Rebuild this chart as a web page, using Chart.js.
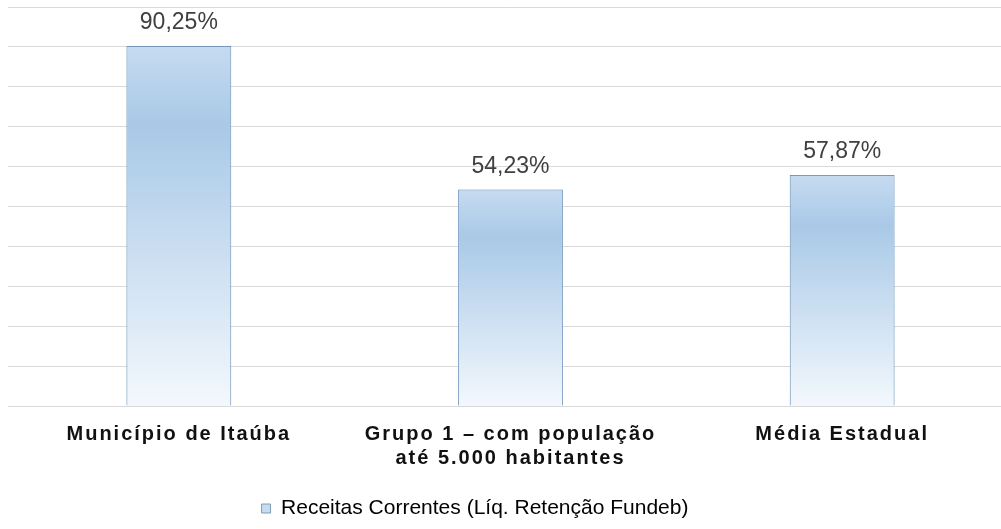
<!DOCTYPE html>
<html><head><meta charset="utf-8">
<style>
html,body{margin:0;padding:0;overflow:hidden;background:#fff;width:1001px;height:529px}
canvas{display:block}
</style>
<script src="https://cdn.jsdelivr.net/npm/chart.js@4/dist/chart.umd.min.js"></script>
</head><body>
<canvas id="c" width="1008" height="529"></canvas>
<script>
const categories = [
  "Município de Itaúba",
  ["Grupo 1 – com população", "até 5.000 habitantes"],
  "Média Estadual"
];
const seriesLabel = "Receitas Correntes (Líq. Retenção Fundeb)";
const values = [90.25, 54.23, 57.87];
const yMin = 0, yMax = 100, yStep = 10;

class SpacedCategoryScale extends Chart.CategoryScale {
  drawLabels(area) {
    const ctx = this.ctx;
    ctx.save();
    ctx.letterSpacing = '2px';
    super.drawLabels(area);
    ctx.restore();
  }
}
SpacedCategoryScale.id = 'spacedCategory';
SpacedCategoryScale.defaults = Chart.CategoryScale.defaults;
Chart.register(SpacedCategoryScale);

const fmt = v => v.toFixed(2).replace('.', ',') + '%';

const decor = {
  id: 'decor',
  afterLayout(chart) {
    chart.legend.right -= 66;
  },
  beforeDatasetsDraw(chart) {
    const ctx = chart.ctx;
    ctx.save();
    ctx.shadowColor = 'rgba(170,205,238,0.55)';
    ctx.shadowBlur = 5;
  },
  afterDatasetsDraw(chart) {
    const ctx = chart.ctx;
    ctx.restore();
    const meta = chart.getDatasetMeta(0);
    ctx.save();
    ctx.font = '23px "Liberation Sans", Arial, sans-serif';
    ctx.fillStyle = '#404040';
    ctx.textAlign = 'center';
    ctx.textBaseline = 'alphabetic';
    meta.data.forEach((bar, i) => {
      ctx.fillText(fmt(chart.data.datasets[0].data[i]), bar.x, bar.y - 17);
    });
    ctx.restore();
  }
};

new Chart(document.getElementById('c'), {
  type: 'bar',
  data: {
    labels: categories,
    datasets: [{
      label: seriesLabel,
      data: values,
      backgroundColor: (c) => {
        const chart = c.chart, ys = chart.scales.y;
        if (!ys || c.type !== 'data') return '#bcd5ee';
        const top = ys.getPixelForValue(c.raw), bot = ys.getPixelForValue(0);
        if (!isFinite(top) || !isFinite(bot) || top === bot) return '#bcd5ee';
        const g = chart.ctx.createLinearGradient(0, top, 0, bot);
        g.addColorStop(0, '#c6dbf0');
        g.addColorStop(0.22, '#a9c9e7');
        g.addColorStop(1, '#f3f8fd');
        return g;
      },
      borderColor: '#6a8bb0',
      borderWidth: 1,
      categoryPercentage: 1,
      barPercentage: 0.316
    }]
  },
  options: {
    responsive: false,
    animation: false,
    layout: { padding: { left: 8, right: 0, top: 7, bottom: 0 } },
    scales: {
      x: {
        type: 'spacedCategory',
        grid: { display: false, drawTicks: false },
        border: { display: true, color: '#d9d9d9', width: 1 },
        ticks: {
          font: { family: '"Liberation Sans", Arial, sans-serif', size: 20, weight: 'bold', lineHeight: 1.2 },
          color: '#111111',
          padding: 16,
          maxRotation: 0,
          autoSkip: false
        }
      },
      y: {
        min: yMin, max: yMax,
        ticks: { stepSize: yStep, display: false },
        grid: { color: '#d9d9d9', lineWidth: 1, drawTicks: true, tickLength: 5 },
        border: { display: false }
      }
    },
    plugins: {
      legend: {
        position: 'bottom',
        labels: {
          font: { family: '"Liberation Sans", Arial, sans-serif', size: 21 },
          color: '#404040',
          boxWidth: 9,
          boxHeight: 9,
          padding: 12,
          generateLabels: (chart) => [{
            text: chart.data.datasets[0].label,
            fillStyle: '#c8dcf0',
            strokeStyle: '#7f9db9',
            lineWidth: 1,
            hidden: false,
            datasetIndex: 0
          }]
        }
      },
      tooltip: { enabled: false }
    }
  },
  plugins: [decor]
});
</script>
</body></html>
